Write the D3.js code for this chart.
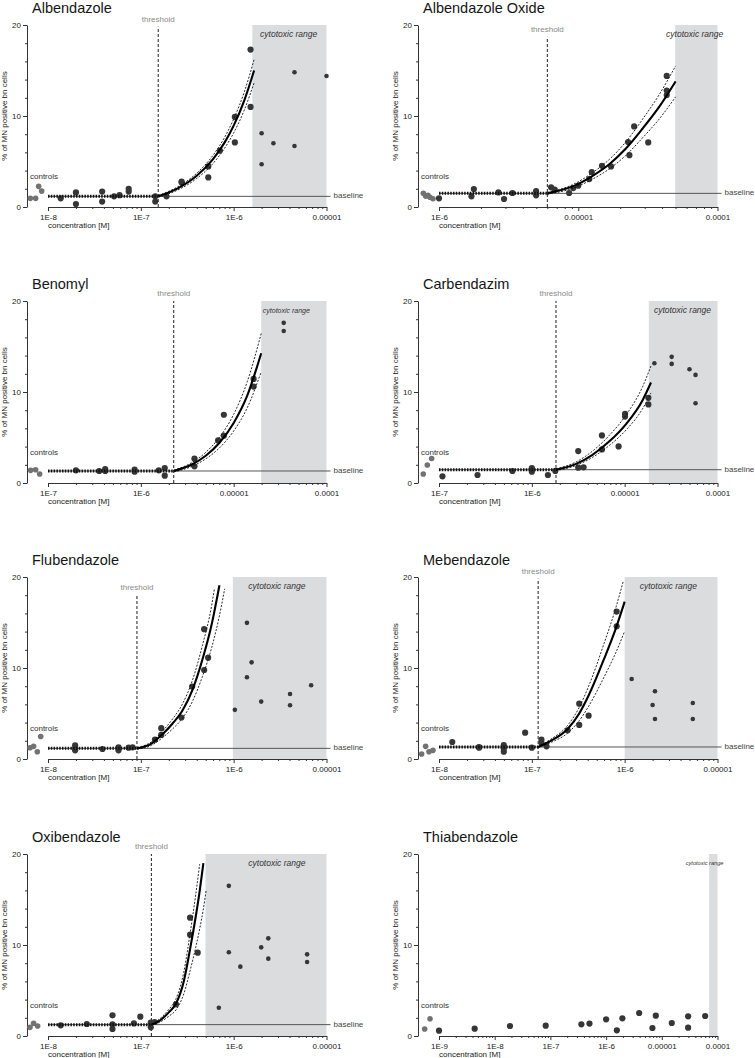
<!DOCTYPE html>
<html>
<head>
<meta charset="utf-8">
<script src="https://cdn.jsdelivr.net/npm/d3@7"></script>
<style>
  body { margin: 0; background: #fff; }
  text { font-family: "Liberation Sans", Arial, sans-serif; }
</style>
</head>
<body>
<div id="chart"></div>
<script>
const compounds = ['Albendazole', 'Albendazole Oxide', 'Benomyl', 'Carbendazim',
  'Flubendazole', 'Mebendazole', 'Oxibendazole', 'Thiabendazole'];

// decades spanned by each x axis, and the labels printed on them
const xDomains = [[1e-8, 1e-5], [1e-6, 1e-4], [1e-7, 1e-4], [1e-7, 1e-4],
  [1e-8, 1e-5], [1e-8, 1e-5], [1e-8, 1e-5], [1e-9, 1e-4]];
const xTickLabels = [
  ['1E-8', '1E-7', '1E-6', '0.00001'],
  ['1E-6', '0.00001', '0.0001'],
  ['1E-7', '1E-6', '0.00001', '0.0001'],
  ['1E-7', '1E-6', '0.00001', '0.0001'],
  ['1E-8', '1E-7', '1E-6', '0.00001'],
  ['1E-8', '1E-7', '1E-6', '0.00001'],
  ['1E-8', '1E-7', '1E-6', '0.00001'],
  ['1E-9', '1E-8', '1E-7', '1E-6', '0.00001', '0.0001'],
];
const yTicks = [0, 10, 20];

const thresholds = [1.54e-7, 6.0e-6, 2.26e-6, 1.82e-6, 9.08e-8, 1.17e-7, 1.3e-7, null];
const baselines = [1.17, 1.5, 1.32, 1.46, 1.17, 1.32, 1.25, null];
const cytotoxicFrom = [1.59e-6, 4.97e-5, 1.98e-5, 1.82e-5, 9.8e-7, 1e-6, 4.97e-7, 7.08e-5];

// [concentration M, % MN positive bn cells]
const albendazoleDose = [[1.37e-8, 0.95], [2.0e-8, 1.6], [2.0e-8, 0.33], [3.83e-8, 1.7], [3.83e-8, 0.6],
  [5.15e-8, 1.17], [5.9e-8, 1.3], [7.4e-8, 2.0], [7.4e-8, 1.7], [1.43e-7, 1.17], [1.43e-7, 0.6],
  [1.89e-7, 1.17], [2.75e-7, 2.8], [2.75e-7, 2.7], [5.33e-7, 4.46], [5.33e-7, 3.25], [7.1e-7, 6.2],
  [1.03e-6, 9.9], [1.03e-6, 7.1], [1.52e-6, 17.3], [1.52e-6, 11.0]];
const albendazoleCytotoxic = [[2.0e-6, 8.1], [2.0e-6, 4.7], [2.68e-6, 7.0], [4.52e-6, 14.8], [4.52e-6, 6.7], [1e-5, 14.4]];
const albendazoleControls = [[6.45e-9, 0.95], [7.36e-9, 0.95], [7.93e-9, 2.27], [8.55e-9, 1.75]];
const albendazoleFit = [[1.54e-7, 1.17], [2.5e-7, 2.05], [4e-7, 3.43], [6e-7, 5.26], [8e-7, 7.1], [1e-6, 8.94], [1.3e-6, 11.69], [1.66e-6, 15.0]];
const albendazoleUpper = [[1.54e-7, 1.27], [2.5e-7, 2.22], [4e-7, 3.71], [6e-7, 5.69], [8e-7, 7.67], [1e-6, 9.66], [1.3e-6, 12.63], [1.66e-6, 16.2]];
const albendazoleLower = [[1.54e-7, 1.07], [2.5e-7, 1.87], [4e-7, 3.13], [6e-7, 4.79], [8e-7, 6.47], [1e-6, 8.14], [1.3e-6, 10.64], [1.66e-6, 13.66]];

const oxideDose = [[1e-6, 0.95], [1.71e-6, 1.17], [1.78e-6, 1.97], [2.67e-6, 1.6], [2.93e-6, 0.88], [3.37e-6, 1.54],
  [4.98e-6, 1.75], [4.98e-6, 1.28], [6.38e-6, 2.16], [6.78e-6, 1.9], [8.6e-6, 1.54], [9.2e-6, 2.08], [1e-5, 2.34],
  [1.2e-5, 3.07], [1.25e-5, 3.84], [1.48e-5, 4.53], [1.72e-5, 4.46], [2.28e-5, 7.13], [2.33e-5, 5.7],
  [2.52e-5, 8.85], [3.18e-5, 7.1], [4.32e-5, 14.4], [4.32e-5, 12.8], [4.32e-5, 12.3]];
const oxideCytotoxic = [];
const oxideControls = [[7.72e-7, 1.5], [8.02e-7, 1.2], [8.33e-7, 1.28], [8.61e-7, 1.07], [9.05e-7, 0.91]];
const oxideFit = [[6.0e-6, 1.5], [9.6e-6, 2.4], [1.26e-5, 3.4], [1.67e-5, 4.7], [2.19e-5, 6.4], [2.89e-5, 8.6], [3.81e-5, 11.0], [5.0e-5, 13.8]];
const oxideUpper = [[6.0e-6, 1.6], [9.6e-6, 2.62], [1.26e-5, 3.75], [1.67e-5, 5.22], [2.19e-5, 7.14], [2.89e-5, 9.62], [3.81e-5, 12.34], [5.0e-5, 15.5]];
const oxideLower = [[6.0e-6, 1.4], [9.6e-6, 2.18], [1.26e-5, 3.05], [1.67e-5, 4.18], [2.19e-5, 5.66], [2.89e-5, 7.58], [3.81e-5, 9.66], [5.0e-5, 12.1]];

const benomylDose = [[2.0e-7, 1.39], [3.56e-7, 1.32], [4.13e-7, 1.54], [4.13e-7, 1.32], [8.57e-7, 1.46], [8.57e-7, 1.24],
  [1.56e-6, 1.39], [1.81e-6, 1.65], [1.81e-6, 0.8], [3.78e-6, 2.67], [3.78e-6, 1.83], [6.8e-6, 4.68],
  [7.84e-6, 7.5], [7.84e-6, 5.2], [1.64e-5, 11.44], [1.64e-5, 10.6]];
const benomylCytotoxic = [[3.46e-5, 17.6], [3.46e-5, 16.7]];
const benomylControls = [[6.5e-8, 1.39], [7.36e-8, 1.46], [8.13e-8, 0.99]];
const benomylFit = [[2.26e-6, 1.32], [3.5e-6, 2.0], [5e-6, 3.0], [7e-6, 4.4], [1e-5, 6.6], [1.4e-5, 9.6], [1.98e-5, 14.26]];
const benomylUpper = [[2.26e-6, 1.42], [3.5e-6, 2.21], [5e-6, 3.37], [7e-6, 4.99], [1e-5, 7.54], [1.4e-5, 11.12], [1.98e-5, 16.43]];
const benomylLower = [[2.26e-6, 1.22], [3.5e-6, 1.8], [5e-6, 2.65], [7e-6, 3.84], [1e-5, 5.71], [1.4e-5, 8.26], [1.98e-5, 12.22]];

const carbendazimDose = [[1.09e-7, 0.73], [2.6e-7, 0.88], [6.18e-7, 1.32], [1e-6, 1.65], [1e-6, 1.54], [1e-6, 1.24],
  [1.49e-6, 0.88], [1.79e-6, 1.32], [3.16e-6, 3.51], [3.16e-6, 1.68], [3.61e-6, 1.72], [5.69e-6, 5.23],
  [5.69e-6, 3.69], [8.6e-6, 4.02], [1.01e-5, 7.6], [1.01e-5, 7.3], [1.8e-5, 9.36], [1.8e-5, 8.63]];
const carbendazimCytotoxic = [[2.09e-5, 13.16], [3.21e-5, 13.86], [3.21e-5, 13.09], [4.99e-5, 12.5], [5.8e-5, 11.88], [5.8e-5, 8.77]];
const carbendazimControls = [[6.77e-8, 0.99], [7.48e-8, 1.97], [8.33e-8, 2.7]];
const carbendazimFit = [[1.82e-6, 1.46], [3e-6, 2.1], [4.5e-6, 3.1], [6.8e-6, 4.55], [1.04e-5, 6.5], [1.56e-5, 9.1], [1.92e-5, 11.04]];
const carbendazimUpper = [[1.82e-6, 1.56], [3e-6, 2.32], [4.5e-6, 3.5], [6.8e-6, 5.21], [1.04e-5, 7.51], [1.56e-5, 10.58], [1.92e-5, 12.86]];
const carbendazimLower = [[1.82e-6, 1.36], [3e-6, 1.93], [4.5e-6, 2.82], [6.8e-6, 4.11], [1.04e-5, 5.85], [1.56e-5, 8.16], [1.92e-5, 9.89]];

const flubendazoleDose = [[1.96e-8, 1.5], [1.96e-8, 1.17], [1.96e-8, 0.95], [3.86e-8, 1.1], [5.75e-8, 1.28], [5.75e-8, 0.95],
  [7.38e-8, 1.24], [8.15e-8, 1.28], [1.42e-7, 2.12], [1.66e-7, 2.66], [1.66e-7, 3.39], [2.74e-7, 4.56],
  [3.57e-7, 7.96], [4.81e-7, 14.27], [4.81e-7, 9.78], [5.31e-7, 11.13]];
const flubendazoleCytotoxic = [[1.03e-6, 5.4], [1.39e-6, 14.96], [1.39e-6, 8.98], [1.56e-6, 10.62], [1.98e-6, 6.31],
  [4.05e-6, 7.15], [4.05e-6, 5.91], [6.83e-6, 8.1]];
const flubendazoleControls = [[6.4e-9, 1.24], [7.0e-9, 1.39], [7.67e-9, 0.8], [8.34e-9, 2.48]];
const flubendazoleFit = [[9.08e-8, 1.17], [1.3e-7, 1.7], [1.7e-7, 2.7], [2.2e-7, 3.9], [2.8e-7, 5.3], [3.6e-7, 7.6], [4.6e-7, 10.9], [5.8e-7, 14.8], [7.03e-7, 19.1]];
const flubendazoleUpper = [[9.08e-8, 1.27], [1.3e-7, 1.88], [1.7e-7, 3.03], [2.2e-7, 4.41], [2.8e-7, 6.02], [3.6e-7, 8.66], [4.6e-7, 12.46], [5.8e-7, 16.9], [6.2e-7, 18.7]];
const flubendazoleLower = [[9.08e-8, 1.07], [1.3e-7, 1.5], [1.7e-7, 2.32], [2.2e-7, 3.31], [2.8e-7, 4.46], [3.6e-7, 6.34], [4.6e-7, 9.05], [5.8e-7, 12.25], [7.03e-7, 15.77], [8.0e-7, 18.7]];

const mebendazoleDose = [[1.39e-8, 1.87], [2.7e-8, 1.32], [2.7e-8, 1.25], [4.99e-8, 1.54], [4.99e-8, 1.17], [4.99e-8, 0.8],
  [8.47e-8, 2.89], [1e-7, 1.25], [1.27e-7, 2.12], [1.27e-7, 1.76], [1.44e-7, 1.39], [2.43e-7, 3.15],
  [3.24e-7, 6.08], [3.24e-7, 3.74], [4.09e-7, 4.76], [8.2e-7, 16.2], [8.2e-7, 14.58]];
const mebendazoleCytotoxic = [[1.19e-6, 8.79], [2.0e-6, 5.93], [2.12e-6, 7.44], [2.12e-6, 4.4], [5.42e-6, 6.15], [5.42e-6, 4.4]];
const mebendazoleControls = [[6.5e-9, 0.55], [7.18e-9, 1.39], [7.8e-9, 0.8], [8.61e-9, 0.95]];
const mebendazoleFit = [[1.17e-7, 1.32], [1.6e-7, 2.0], [2.43e-7, 3.3], [3.24e-7, 5.0], [4.1e-7, 7.0], [6e-7, 11.0], [8e-7, 14.3], [1e-6, 17.3]];
const mebendazoleUpper = [[1.17e-7, 1.37], [1.6e-7, 2.17], [2.43e-7, 3.69], [3.24e-7, 5.68], [4.1e-7, 8.02], [6e-7, 12.7], [8e-7, 16.56], [9.7e-7, 19.6]];
const mebendazoleLower = [[1.17e-7, 1.27], [1.6e-7, 1.81], [2.43e-7, 2.85], [3.24e-7, 4.21], [4.1e-7, 5.81], [6e-7, 9.01], [8e-7, 11.65], [1e-6, 14.05]];

const oxibendazoleDose = [[1.37e-8, 1.17], [2.62e-8, 1.32], [4.95e-8, 2.27], [4.95e-8, 1.28], [4.95e-8, 0.77], [8.42e-8, 1.39],
  [9.87e-8, 2.12], [1.28e-7, 1.47], [1.28e-7, 0.95], [1.41e-7, 1.54], [2.39e-7, 3.48], [3.39e-7, 13.0],
  [3.39e-7, 11.14], [4.1e-7, 9.16]];
const oxibendazoleCytotoxic = [[6.92e-7, 3.11], [8.87e-7, 16.5], [8.87e-7, 9.2], [1.18e-6, 7.62], [1.98e-6, 9.74],
  [2.36e-6, 10.73], [2.36e-6, 8.5], [6.18e-6, 8.97], [6.18e-6, 8.13]];
const oxibendazoleControls = [[6.4e-9, 0.95], [7.0e-9, 1.39], [7.73e-9, 1.1]];
const oxibendazoleFit = [[1.3e-7, 1.25], [1.6e-7, 1.7], [2e-7, 2.6], [2.4e-7, 3.6], [2.9e-7, 6.0], [3.4e-7, 9.6], [3.9e-7, 13.1], [4.3e-7, 15.9], [4.72e-7, 19.0]];
const oxibendazoleUpper = [[1.3e-7, 1.3], [1.6e-7, 1.89], [2e-7, 2.92], [2.4e-7, 4.12], [2.9e-7, 7.0], [3.4e-7, 11.32], [3.9e-7, 15.52], [4.3e-7, 18.88]];
const oxibendazoleLower = [[1.3e-7, 1.2], [1.6e-7, 1.52], [2e-7, 2.17], [2.4e-7, 2.89], [2.9e-7, 4.62], [3.4e-7, 7.21], [3.9e-7, 9.73], [4.3e-7, 11.75], [4.72e-7, 13.98], [5.05e-7, 16.0]];

const thiabendazoleDose = [[1e-9, 0.59], [4.37e-9, 0.81], [1.88e-8, 1.1], [8.24e-8, 1.14], [3.6e-7, 1.28], [5.03e-7, 1.36],
  [1e-6, 1.83], [1.56e-6, 0.62], [1.96e-6, 1.94], [3.92e-6, 2.53], [6.79e-6, 0.88], [7.8e-6, 2.23],
  [1.51e-5, 1.43], [2.97e-5, 0.92], [2.97e-5, 2.16], [6.0e-5, 2.2]];
const thiabendazoleCytotoxic = [];
const thiabendazoleControls = [[5.53e-10, 0.77], [6.9e-10, 1.9]];

const doseSets = [albendazoleDose, oxideDose, benomylDose, carbendazimDose, flubendazoleDose, mebendazoleDose, oxibendazoleDose, thiabendazoleDose];
const cytoSets = [albendazoleCytotoxic, oxideCytotoxic, benomylCytotoxic, carbendazimCytotoxic, flubendazoleCytotoxic, mebendazoleCytotoxic, oxibendazoleCytotoxic, thiabendazoleCytotoxic];
const controlSets = [albendazoleControls, oxideControls, benomylControls, carbendazimControls, flubendazoleControls, mebendazoleControls, oxibendazoleControls, thiabendazoleControls];
const fitSets = [albendazoleFit, oxideFit, benomylFit, carbendazimFit, flubendazoleFit, mebendazoleFit, oxibendazoleFit, null];
const upperSets = [albendazoleUpper, oxideUpper, benomylUpper, carbendazimUpper, flubendazoleUpper, mebendazoleUpper, oxibendazoleUpper, null];
const lowerSets = [albendazoleLower, oxideLower, benomylLower, carbendazimLower, flubendazoleLower, mebendazoleLower, oxibendazoleLower, null];

// layout
const colAxisX = [27, 418]; // y axis position of each column
const rowTop = [25, 301, 577, 854];
const plotW = 278.5;
const plotH = 182;
const axisGap = 21; // x axis starts this far right of the y axis
const thresholdTop = [19.8, 18.7, 20, 20, 18, 19.8, 20, 20];
const cytoLabelPos = [0.49, 0.46, 0.385, 0.49, 0.47, 0.47, 0.59, -0.55];
const cytoLabelSize = [8.5, 8.5, 7, 8.5, 8.5, 8.5, 8.5, 5.6];

const svg = d3.select('#chart').append('svg')
  .attr('width', 755)
  .attr('height', 1058);

svg.append('rect').attr('width', 755).attr('height', 1058).attr('fill', '#fff');

compounds.forEach((name, i) => {
  const axisX = colAxisX[i % 2];
  const top = rowTop[Math.floor(i / 2)];
  const x0 = axisX + axisGap;
  const domain = xDomains[i];

  const xScale = d3.scaleLog().domain(domain).range([x0, x0 + plotW]);
  const yScale = d3.scaleLinear().domain([0, 20]).range([top + plotH, top]);
  const line = d3.line()
    .x(d => xScale(d[0]))
    .y(d => yScale(d[1]))
    .curve(d3.curveMonotoneX);

  const g = svg.append('g').attr('class', 'panel');

  g.append('text')
    .attr('x', axisX + 5)
    .attr('y', top - 12.5)
    .attr('font-size', 14.5)
    .attr('fill', '#151515')
    .text(name);

  // cytotoxic range box
  const cx0 = xScale(cytotoxicFrom[i]);
  const cx1 = xScale(domain[1]);
  g.append('rect')
    .attr('x', cx0)
    .attr('y', top)
    .attr('width', cx1 - cx0)
    .attr('height', plotH)
    .attr('fill', '#dbdcde');
  g.append('text')
    .attr('x', cx0 + cytoLabelPos[i] * (cx1 - cx0))
    .attr('y', top + 10)
    .attr('text-anchor', 'middle')
    .attr('dominant-baseline', 'middle')
    .attr('font-style', 'italic')
    .attr('font-size', cytoLabelSize[i])
    .attr('fill', '#333')
    .text('cytotoxic range');

  // baseline
  if (baselines[i] != null) {
    g.append('line')
      .attr('x1', x0).attr('x2', x0 + plotW + 4)
      .attr('y1', yScale(baselines[i])).attr('y2', yScale(baselines[i]))
      .attr('stroke', '#555')
      .attr('stroke-width', 1);
    g.append('text')
      .attr('x', x0 + plotW + 7)
      .attr('y', yScale(baselines[i]))
      .attr('dominant-baseline', 'middle')
      .attr('font-size', 8)
      .attr('fill', '#444')
      .text('baseline');
  }

  // threshold
  if (thresholds[i] != null) {
    const tx = xScale(thresholds[i]);
    g.append('line')
      .attr('x1', tx).attr('x2', tx)
      .attr('y1', yScale(0)).attr('y2', yScale(thresholdTop[i]))
      .attr('stroke', '#333')
      .attr('stroke-width', 1.1)
      .attr('stroke-dasharray', '3,2');
    g.append('text')
      .attr('x', tx)
      .attr('y', yScale(thresholdTop[i]) - 5)
      .attr('text-anchor', 'middle')
      .attr('font-size', 8)
      .attr('fill', '#8a8a8a')
      .text('threshold');
  }

  // axes
  const decades = d3.range(Math.round(Math.log10(domain[0])), Math.round(Math.log10(domain[1])) + 1)
    .map(e => +(`1e${e}`));
  const minor = [];
  decades.slice(0, -1).forEach(d => d3.range(2, 10).forEach(k => minor.push(k * d)));

  const xAxisG = g.append('g')
    .attr('transform', `translate(0,${yScale(0)})`)
    .call(d3.axisBottom(xScale)
      .tickValues(decades)
      .tickFormat((d, j) => xTickLabels[i][j])
      .tickSize(4)
      .tickSizeOuter(0));
  g.append('g')
    .attr('transform', `translate(0,${yScale(0)})`)
    .call(d3.axisBottom(xScale)
      .tickValues(minor)
      .tickFormat('')
      .tickSize(2)
      .tickSizeOuter(0))
    .call(a => a.select('.domain').remove());

  const yAxisG = g.append('g')
    .attr('transform', `translate(${axisX},0)`)
    .call(d3.axisLeft(yScale)
      .tickValues(yTicks)
      .tickSize(4)
      .tickPadding(2)
      .tickSizeOuter(0));
  g.append('g')
    .attr('transform', `translate(${axisX},0)`)
    .call(d3.axisLeft(yScale)
      .tickValues(d3.range(2, 20, 2))
      .tickFormat('')
      .tickSize(2)
      .tickSizeOuter(0))
    .call(a => a.select('.domain').remove());

  g.selectAll('.domain, .tick line').attr('stroke', '#333');
  [xAxisG, yAxisG].forEach(a => a.selectAll('text')
    .attr('font-size', 8)
    .attr('fill', '#222')
    .attr('font-family', '"Liberation Sans", Arial, sans-serif'));

  g.append('text')
    .attr('x', x0)
    .attr('y', yScale(0) + 20.5)
    .attr('font-size', 8)
    .attr('fill', '#222')
    .text('concentration [M]');

  g.append('text')
    .attr('transform', `translate(${axisX - 22},${top + plotH / 2}) rotate(-90)`)
    .attr('text-anchor', 'middle')
    .attr('dominant-baseline', 'middle')
    .attr('font-size', 8)
    .attr('fill', '#222')
    .text('% of MN positive bn cells');

  g.append('text')
    .attr('x', axisX + 3)
    .attr('y', yScale(3.3))
    .attr('dominant-baseline', 'middle')
    .attr('font-size', 8)
    .attr('fill', '#333')
    .text('controls');

  // points
  g.selectAll('.ctrl')
    .data(controlSets[i])
    .enter().append('circle')
    .attr('class', 'ctrl')
    .attr('cx', d => xScale(d[0]))
    .attr('cy', d => yScale(d[1]))
    .attr('r', 2.8)
    .attr('fill', '#727272');

  g.selectAll('.dose')
    .data(doseSets[i])
    .enter().append('circle')
    .attr('class', 'dose')
    .attr('cx', d => xScale(d[0]))
    .attr('cy', d => yScale(d[1]))
    .attr('r', 3.1)
    .attr('fill', '#363636');

  g.selectAll('.cyto')
    .data(cytoSets[i])
    .enter().append('circle')
    .attr('class', 'cyto')
    .attr('cx', d => xScale(d[0]))
    .attr('cy', d => yScale(d[1]))
    .attr('r', 2.3)
    .attr('fill', '#363636');

  // fitted model
  if (fitSets[i]) {
    g.append('line')
      .attr('x1', x0).attr('x2', xScale(thresholds[i]))
      .attr('y1', yScale(baselines[i])).attr('y2', yScale(baselines[i]))
      .attr('stroke', '#111')
      .attr('stroke-width', 3)
      .attr('stroke-dasharray', '1.5,1.3');
    [upperSets[i], lowerSets[i]].forEach(band => {
      g.append('path')
        .attr('d', line(band))
        .attr('fill', 'none')
        .attr('stroke', '#111')
        .attr('stroke-width', 0.9)
        .attr('stroke-dasharray', '2,1.5');
    });
    g.append('path')
      .attr('d', line(fitSets[i]))
      .attr('fill', 'none')
      .attr('stroke', '#000')
      .attr('stroke-width', 2.1);
  }
});
</script>
</body>
</html>
